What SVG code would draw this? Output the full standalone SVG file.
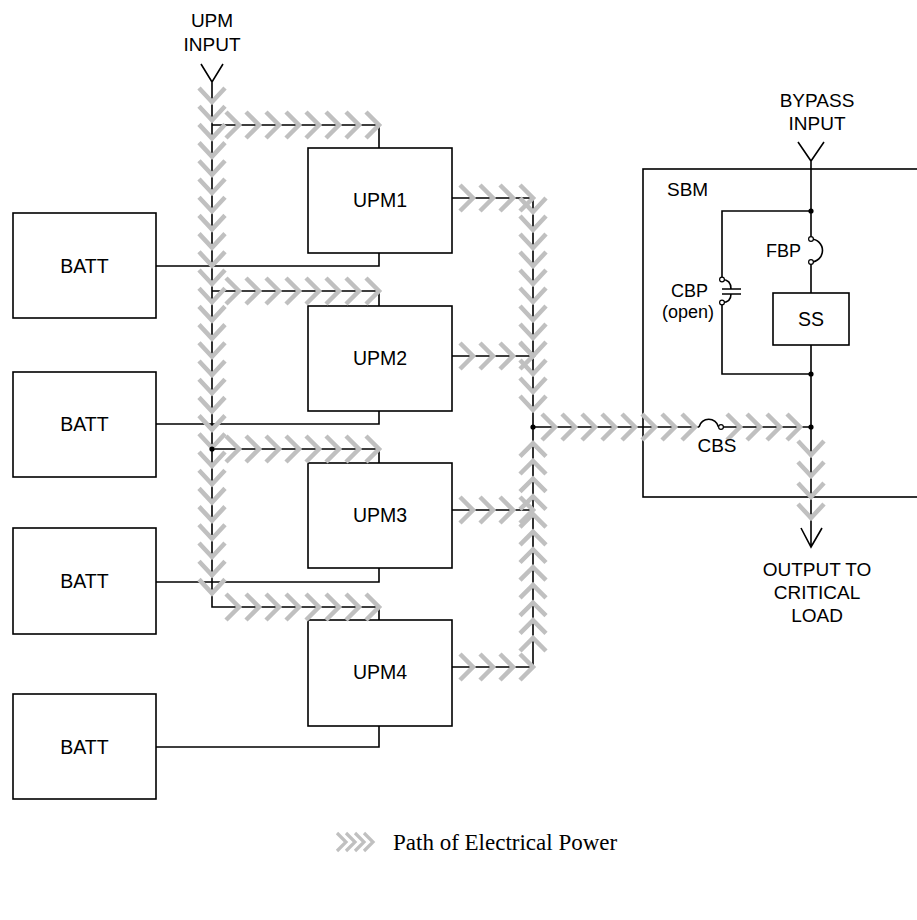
<svg xmlns="http://www.w3.org/2000/svg" width="917" height="920" viewBox="0 0 917 920">
<style>
.bx{fill:#fff;stroke:#000;stroke-width:1.6}
.ln{fill:none;stroke:#000;stroke-width:1.6}
.t{font-family:"Liberation Sans",Arial,sans-serif;font-size:19px;fill:#000;text-anchor:middle}
.tb{font-family:"Liberation Sans",Arial,sans-serif;font-size:19.5px;fill:#000;text-anchor:middle}
.tl{font-family:"Liberation Sans",Arial,sans-serif;font-size:19px;fill:#000}
.te{font-family:"Liberation Sans",Arial,sans-serif;font-size:18px;fill:#000;text-anchor:end}
.ch{fill:none;stroke:#c0c0c0;stroke-width:4.5;stroke-linecap:butt;stroke-linejoin:miter}
.chs{fill:none;stroke:#c0c0c0;stroke-width:3.2;stroke-linecap:butt;stroke-linejoin:miter}
.dot{fill:#000}
.ct{fill:#fff;stroke:#000;stroke-width:1.2}
</style>
<rect width="917" height="920" fill="#fff"/>

<g id="sbm">
<rect class="bx" x="643" y="169" width="300" height="328"/>
<text class="tl" x="667" y="196">SBM</text>
</g>

<g id="batt1"><rect class="bx" x="13" y="213" width="143" height="105"/><text class="tb" x="84.5" y="273">BATT</text></g>
<g id="batt2"><rect class="bx" x="13" y="372" width="143" height="105"/><text class="tb" x="84.5" y="431">BATT</text></g>
<g id="batt3"><rect class="bx" x="13" y="528" width="143" height="106"/><text class="tb" x="84.5" y="588">BATT</text></g>
<g id="batt4"><rect class="bx" x="13" y="694" width="143" height="105"/><text class="tb" x="84.5" y="754">BATT</text></g>

<g id="upm1"><rect class="bx" x="308" y="148" width="144" height="105"/><text class="tb" x="380" y="207">UPM1</text></g>
<g id="upm2"><rect class="bx" x="308" y="306" width="144" height="105"/><text class="tb" x="380" y="365">UPM2</text></g>
<g id="upm3"><rect class="bx" x="308" y="463" width="144" height="105"/><text class="tb" x="380" y="522">UPM3</text></g>
<g id="upm4"><rect class="bx" x="308" y="620" width="144" height="106"/><text class="tb" x="380" y="679">UPM4</text></g>

<g id="ss"><rect class="bx" x="773" y="293" width="76" height="52"/><text class="tb" x="811" y="326">SS</text></g>

<g id="upm-input"><text class="t" x="212" y="27">UPM</text><text class="t" x="212" y="51">INPUT</text></g>
<g id="bypass-input"><text class="t" x="817" y="107">BYPASS</text><text class="t" x="817" y="130">INPUT</text></g>
<g id="output-label"><text class="t" x="817" y="576">OUTPUT TO</text><text class="t" x="817" y="599">CRITICAL</text><text class="t" x="817" y="622">LOAD</text></g>

<g id="connectors" class="ln">
<path d="M201,64 L212,82 L223,64 M212,82 V607 H379 V620"/>
<path d="M212,125 H379 V148 M212,291 H379 V306 M212,449 H379 V463"/>
<path d="M156,266 H379 V253 M156,424 H379 V411 M156,582 H379 V568 M156,747 H379 V726"/>
<path d="M452,198 H533 M452,356 H533 M452,510 H533 M452,667 H533 M533,198 V667"/>
<path d="M533,427 H699 M699,427 A10,10 0 0 1 718.5,427 M723,427 H811"/>
<path d="M798,142 L811,161 L824,142 M811,161 V237 M811,239 A11.5,11.5 0 0 1 811,262 M811,264 V293 M811,345 V547 M801,528 L811,547 L822,528"/>
<path d="M811,211 H722 V277 M722,279.5 Q731,279.5 731,289 M722,289 H741 M722,294 H741 M731,294 Q731,302.5 722,302.5 M722,305 V374 H811"/>
</g>

<g id="power-path" class="ch">
<path d="M199,88 l13,14 l13,-14 m-26,18.2 l13,14 l13,-14 m-26,18.2 l13,14 l13,-14 m-26,18.2 l13,14 l13,-14 m-26,18.2 l13,14 l13,-14 m-26,18.2 l13,14 l13,-14 m-26,18.2 l13,14 l13,-14 m-26,18.2 l13,14 l13,-14 m-26,18.2 l13,14 l13,-14 m-26,18.2 l13,14 l13,-14 m-26,18.2 l13,14 l13,-14 m-26,18.2 l13,14 l13,-14 m-26,18.2 l13,14 l13,-14 m-26,18.2 l13,14 l13,-14 m-26,18.2 l13,14 l13,-14 m-26,18.2 l13,14 l13,-14 m-26,18.2 l13,14 l13,-14 m-26,18.2 l13,14 l13,-14 m-26,18.2 l13,14 l13,-14 m-26,18.2 l13,14 l13,-14 m-26,18.2 l13,14 l13,-14 m-26,18.2 l13,14 l13,-14 m-26,18.2 l13,14 l13,-14 m-26,18.2 l13,14 l13,-14 m-26,18.2 l13,14 l13,-14 m-26,18.2 l13,14 l13,-14 m-26,18.2 l13,14 l13,-14 m-26,18.2 l13,14 l13,-14"/>
<path d="M226,112 l13,13 l-13,13 m20,-26 l13,13 l-13,13 m20,-26 l13,13 l-13,13 m20,-26 l13,13 l-13,13 m20,-26 l13,13 l-13,13 m20,-26 l13,13 l-13,13 m20,-26 l13,13 l-13,13 m20,-26 l13,13 l-13,13"/>
<path d="M226,278 l13,13 l-13,13 m20,-26 l13,13 l-13,13 m20,-26 l13,13 l-13,13 m20,-26 l13,13 l-13,13 m20,-26 l13,13 l-13,13 m20,-26 l13,13 l-13,13 m20,-26 l13,13 l-13,13 m20,-26 l13,13 l-13,13"/>
<path d="M226,436 l13,13 l-13,13 m20,-26 l13,13 l-13,13 m20,-26 l13,13 l-13,13 m20,-26 l13,13 l-13,13 m20,-26 l13,13 l-13,13 m20,-26 l13,13 l-13,13 m20,-26 l13,13 l-13,13 m20,-26 l13,13 l-13,13"/>
<path d="M226,594 l13,13 l-13,13 m20,-26 l13,13 l-13,13 m20,-26 l13,13 l-13,13 m20,-26 l13,13 l-13,13 m20,-26 l13,13 l-13,13 m20,-26 l13,13 l-13,13 m20,-26 l13,13 l-13,13 m20,-26 l13,13 l-13,13"/>
<path d="M460,185 l13,13 l-13,13 m20,-26 l13,13 l-13,13 m20,-26 l13,13 l-13,13 m20,-26 l13,13 l-13,13"/>
<path d="M460,343 l13,13 l-13,13 m20,-26 l13,13 l-13,13 m20,-26 l13,13 l-13,13 m20,-26 l13,13 l-13,13"/>
<path d="M460,497 l13,13 l-13,13 m20,-26 l13,13 l-13,13 m20,-26 l13,13 l-13,13 m20,-26 l13,13 l-13,13"/>
<path d="M460,654 l13,13 l-13,13 m20,-26 l13,13 l-13,13 m20,-26 l13,13 l-13,13 m20,-26 l13,13 l-13,13"/>
<path d="M520,198 l13,14 l13,-14 m-26,18 l13,14 l13,-14 m-26,18 l13,14 l13,-14 m-26,18 l13,14 l13,-14 m-26,18 l13,14 l13,-14 m-26,18 l13,14 l13,-14 m-26,18 l13,14 l13,-14 m-26,18 l13,14 l13,-14 m-26,18 l13,14 l13,-14 m-26,18 l13,14 l13,-14 m-26,18 l13,14 l13,-14 m-26,18 l13,14 l13,-14"/>
<path d="M520,651 l13,-13 l13,13 m-26,-17.7 l13,-13 l13,13 m-26,-17.7 l13,-13 l13,13 m-26,-17.7 l13,-13 l13,13 m-26,-17.7 l13,-13 l13,13 m-26,-17.7 l13,-13 l13,13 m-26,-17.7 l13,-13 l13,13 m-26,-17.7 l13,-13 l13,13 m-26,-17.7 l13,-13 l13,13 m-26,-17.7 l13,-13 l13,13 m-26,-17.7 l13,-13 l13,13 m-26,-17.7 l13,-13 l13,13"/>
<path d="M542,414 l13,13 l-13,13 m20,-26 l13,13 l-13,13 m20,-26 l13,13 l-13,13 m20,-26 l13,13 l-13,13 m20,-26 l13,13 l-13,13 m20,-26 l13,13 l-13,13 m20,-26 l13,13 l-13,13 m20,-26 l13,13 l-13,13"/>
<path d="M727,414 l13,13 l-13,13 m20,-26 l13,13 l-13,13 m20,-26 l13,13 l-13,13 m20,-26 l13,13 l-13,13"/>
<path d="M798,441 l13,14 l13,-14 m-26,21 l13,14 l13,-14 m-26,21 l13,14 l13,-14 m-26,21 l13,14 l13,-14"/>
</g>

<g id="junctions">
<circle class="dot" cx="212" cy="449" r="2.6"/>
<circle class="dot" cx="533" cy="427" r="2.6"/>
<circle class="dot" cx="811" cy="211" r="2.6"/>
<circle class="dot" cx="811" cy="374" r="2.6"/>
<circle class="dot" cx="811" cy="427" r="2.6"/>
<circle class="ct" cx="811" cy="239" r="2.4"/>
<circle class="ct" cx="811" cy="262" r="2.4"/>
<circle class="ct" cx="722" cy="279.5" r="2.4"/>
<circle class="ct" cx="722" cy="302.5" r="2.4"/>
<circle class="ct" cx="721" cy="427" r="2.4"/>
</g>

<g id="switch-labels">
<text class="te" x="801" y="257">FBP</text>
<text class="te" x="708" y="297">CBP</text>
<text class="te" x="714" y="318">(open)</text>
<text class="t" x="717" y="452">CBS</text>
</g>

<g id="legend">
<path class="chs" d="M337,833 l9,9 l-9,9 m9,-18 l9,9 l-9,9 m9,-18 l9,9 l-9,9 m9,-18 l9,9 l-9,9"/>
<text x="393" y="850" style="font-family:'Liberation Serif','Times New Roman',serif;font-size:23px;fill:#000">Path of Electrical Power</text>
</g>
</svg>
